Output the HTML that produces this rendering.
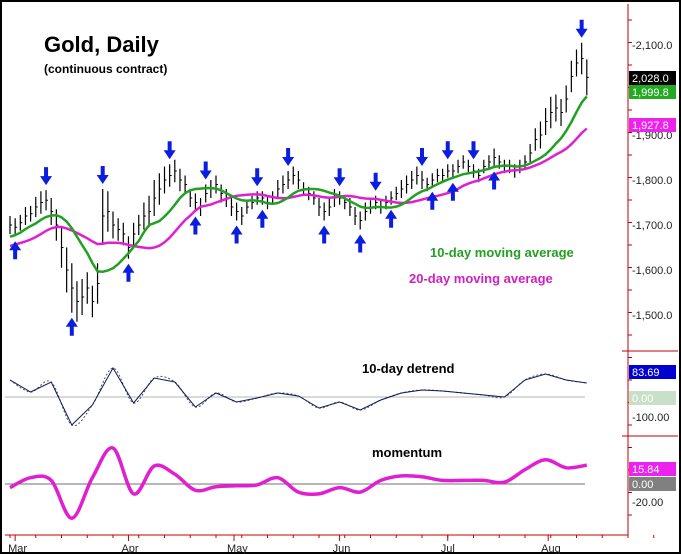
<!DOCTYPE html>
<html><head><meta charset="utf-8">
<style>
html,body{margin:0;padding:0;background:#fff;}
svg{display:block;font-family:"Liberation Sans",Arial,sans-serif;}
</style></head>
<body>
<svg id="chart" width="681" height="554" viewBox="0 0 681 554">
  <rect x="1" y="1" width="679" height="552" fill="#fff" stroke="#000" stroke-width="2"/>
  <text x="44" y="52" font-size="22" font-weight="bold">Gold, Daily</text>
  <text x="44" y="73" font-size="12" font-weight="bold">(continuous contract)</text>
  <text x="430" y="257" font-size="13" font-weight="bold" fill="#22a022">10-day moving average</text>
  <text x="409" y="283" font-size="13" font-weight="bold" fill="#d020c0">20-day moving average</text>
  <text x="362" y="373" font-size="13" font-weight="bold">10-day detrend</text>
  <text x="372" y="457" font-size="13" font-weight="bold">momentum</text>
  <g id="layer"></g>
</svg>
<script>
// ---- data ----
const priorCloses=[1630,1640,1650,1640,1630,1620,1610,1620,1640,1650,1660,1650,1640,1660,1680,1670,1690,1700,1690];
const closes=[1700,1695,1705,1720,1725,1740,1750,1755,1730,1700,1650,1600,1560,1530,1540,1560,1530,1570,1720,1730,1700,1690,1680,
1650,1680,1700,1720,1730,1760,1780,1800,1810,1820,1800,1790,1760,1750,1740,1770,1780,1790,1770,1760,1740,1730,
1720,1740,1750,1760,1760,1750,1760,1780,1790,1800,1810,1800,1780,1770,1760,1740,1730,1740,1760,1760,
1750,1740,1720,1710,1730,1740,1750,1740,1750,1760,1770,1780,1790,1800,1810,1800,1790,1800,1810,1810,1820,
1820,1830,1840,1830,1820,1810,1830,1840,1850,1840,1830,1830,1820,1830,1840,1860,1890,1900,1930,1950,1960,1950,
1980,2030,2060,2070,2028];
const ranges=[40,40,35,40,35,45,50,45,60,70,90,100,110,90,80,70,70,90,120,90,60,50,50,
50,50,45,60,70,80,70,60,50,50,50,40,40,40,40,40,40,40,40,40,40,40,
40,30,30,30,30,30,30,40,40,40,40,40,30,30,30,40,40,40,40,30,
30,40,40,40,40,30,30,30,30,30,30,40,40,40,40,40,30,30,30,30,30,
30,30,30,30,30,30,30,30,40,30,30,30,30,30,30,40,50,60,60,70,60,60,
60,70,60,70,80];
const downIdx=[7,18,31,38,48,54,64,71,80,85,90,111];
const upIdx=[1,12,23,36,44,49,61,68,74,82,86,94];
const sampleStep=4;
const detrend=[85,25,75,-140,-40,145,-30,95,75,-50,20,-25,-5,20,5,-55,-25,-65,-15,20,35,30,20,10,0,85,115,85,70];
const momentum=[-4,7,4,-38,7,40,-11,20,11,-7,-3,-2,-1,7,-9,-11,-4,-9,4,9,8,4,4,4,2,16,27,18,21];
const priceTicks=[2100,1900,1800,1700,1600,1500];
const months=["Mar","Apr","May","Jun","Jul","Aug"];
const monthStartIdx=[1,23,43.5,64,85,104.5];

// ---- axes ----
const X=i=>10+i*5.15;
const Y=p=>45+(2100-p)*0.45;
const YD=v=>397-v*0.2;
const YM=v=>484-v*0.9;
const NS="http://www.w3.org/2000/svg";
const layer=document.getElementById('layer');
function mk(t,a,parent){const e=document.createElementNS(NS,t);for(const k in a)e.setAttribute(k,a[k]);(parent||layer).appendChild(e);return e;}

let e=mk('line',{x1:628,y1:4,x2:628,y2:535,stroke:'#c00000','stroke-width':1});


e=mk('line',{x1:5,y1:535,x2:628,y2:535,stroke:'#c00000','stroke-width':1});


[351,436].forEach(y=>{const s=mk('line',{x1:622,y1:y,x2:678,y2:y,stroke:'#c00000','stroke-width':1});

});
for(let y=20;y<535;y+=22.5){mk('line',{x1:628,y1:y,x2:632,y2:y,stroke:'#c00000'});}
priceTicks.forEach(p=>{
  const t=mk('text',{x:632,y:Y(p)+4,'font-size':11,fill:'#222'});t.textContent='-'+p.toLocaleString('en-US',{minimumFractionDigits:1});
  
  
});
[[417,'-100.00'],[502,'-20.00']].forEach(([y,s])=>{const t=mk('text',{x:632,y:y+4,'font-size':11,fill:'#222'});t.textContent=s;

});
months.forEach((m,k)=>{
  const x=X(monthStartIdx[k]);
  mk('line',{x1:x,y1:535,x2:x,y2:541,stroke:'#c00000'});
  const t=mk('text',{x:x-7,y:552,'font-size':11,fill:'#222'});t.textContent=m;
  
  
});
for(let i=0;i<130;i+=5){mk('line',{x1:X(i),y1:535,x2:X(i),y2:538,stroke:'#c00000'});}

mk('line',{x1:5,y1:YD(0),x2:585,y2:YD(0),stroke:'#b0b8b0'});
mk('line',{x1:5,y1:YM(0),x2:585,y2:YM(0),stroke:'#707070'});

closes.forEach((c,i)=>{
  const x=X(i),h=c+ranges[i]*0.5,l=c-ranges[i]*0.5;
  const b=mk('line',{x1:x,y1:Y(h),x2:x,y2:Y(l),stroke:'#000','stroke-width':1.2});
  
  
  mk('line',{x1:x,y1:Y(c),x2:x+2,y2:Y(c),stroke:'#000','stroke-width':1});
});
const all=priorCloses.concat(closes);
function ma(n){return closes.map((c,i)=>{const j=i+priorCloses.length;const s=all.slice(Math.max(0,j-n+1),j+1);return s.reduce((a,b)=>a+b,0)/s.length;});}
function path(vals,fx,fy){return vals.map((v,i)=>(i?'L':'M')+fx(i).toFixed(1)+','+fy(v).toFixed(1)).join('');}
e=mk('path',{d:path(ma(20),X,Y),fill:'none',stroke:'#e020d0','stroke-width':2.5});


e=mk('path',{d:path(ma(10),X,Y),fill:'none',stroke:'#22a022','stroke-width':2.5});



function arrow(x,y,dir,name){
  const g=mk('path',{fill:'#0a1ee0'});
  const d=dir;
  const p=[[x-2,y-d*18],[x+2,y-d*18],[x+2,y-d*9],[x+6,y-d*9],[x,y],[x-6,y-d*9],[x-2,y-d*9]];
  g.setAttribute('d','M'+p.map(q=>q.join(',')).join('L')+'Z');
  
  
}
downIdx.forEach(i=>arrow(X(i),Y(closes[i]+ranges[i]*0.5)-5,1,'top-arrow'));
upIdx.forEach(i=>arrow(X(i),Y(closes[i]-ranges[i]*0.5)+5,-1,'bottom-arrow'));

const SX=k=>X(Math.min(k*sampleStep,closes.length-1));
function smooth(vals,fx,fy){
  const pts=vals.map((v,i)=>[fx(i),fy(v)]);let d='M'+pts[0].join(',');
  for(let i=0;i<pts.length-1;i++){const p0=pts[Math.max(0,i-1)],p1=pts[i],p2=pts[i+1],p3=pts[Math.min(pts.length-1,i+2)];
    d+='C'+(p1[0]+(p2[0]-p0[0])/6).toFixed(1)+','+(p1[1]+(p2[1]-p0[1])/6).toFixed(1)+' '+(p2[0]-(p3[0]-p1[0])/6).toFixed(1)+','+(p2[1]-(p3[1]-p1[1])/6).toFixed(1)+' '+p2[0].toFixed(1)+','+p2[1].toFixed(1);}
  return d;}
e=mk('path',{d:smooth(detrend,SX,YD),fill:'none',stroke:'#555','stroke-width':1,'stroke-dasharray':'2,2'});


e=mk('path',{d:path(detrend,SX,YD),fill:'none',stroke:'#101860','stroke-width':1});


e=mk('path',{d:smooth(momentum,SX,YM),fill:'none',stroke:'#e020d0','stroke-width':3.5});



[[71,'#000','#fff','2,028.0','last-price-box'],[85,'#22aa22','#fff','1,999.8','ma10-value-box'],[118,'#ee22ee','#fff','1,927.8','ma20-value-box'],
 [365,'#0000d0','#fff','83.69','detrend-value-box'],[391,'#c8e0c8','#fff','0.00','detrend-zero-box'],[462,'#ee22ee','#fff','15.84','momentum-value-box'],[477,'#808080','#fff','0.00','momentum-zero-box']]
.forEach(([y,bg,fg,s,n])=>{
  const r=mk('rect',{x:629,y:y,width:47,height:14,fill:bg});
  
  
  const t=mk('text',{x:632,y:y+11,'font-size':11,fill:fg});t.textContent=s;
  
  
});
</script>
</body></html>
